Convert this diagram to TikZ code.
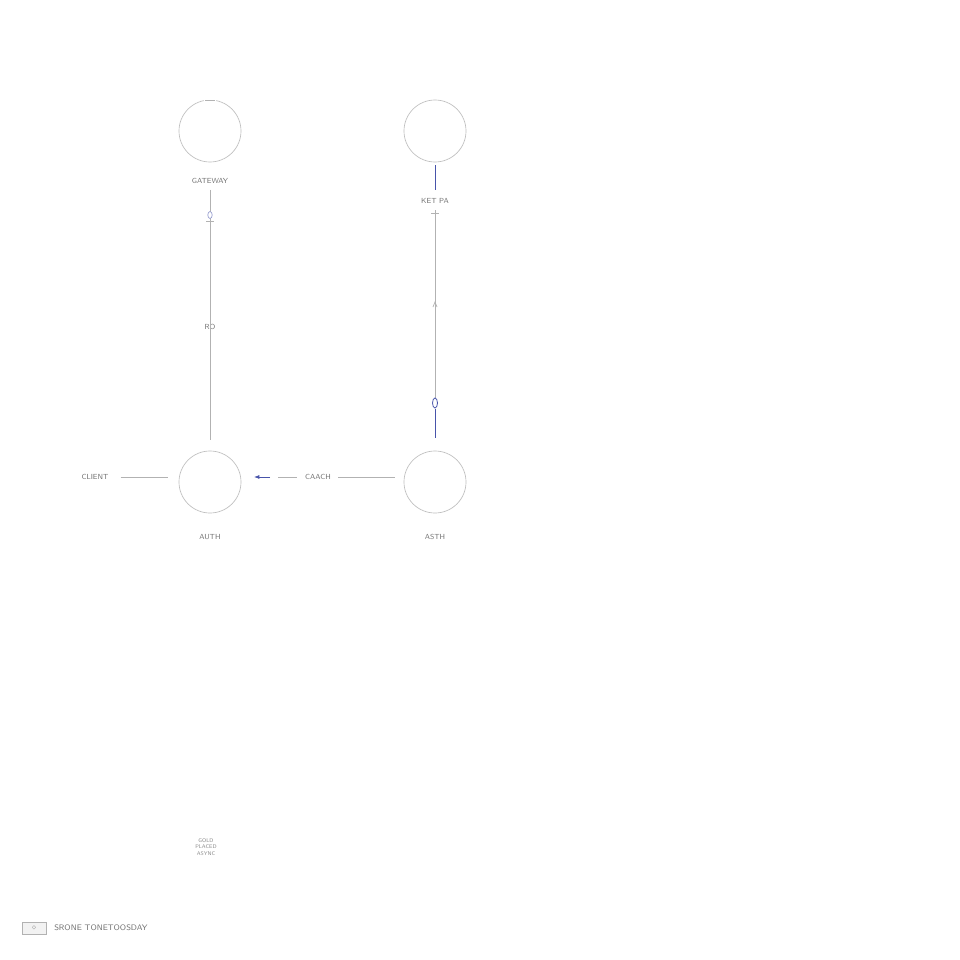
\documentclass[tikz,border=0pt]{standalone}
\usetikzlibrary{arrows.meta}
\definecolor{accentblue}{RGB}{72,84,170}
\begin{document}
\begin{tikzpicture}[x=0.75pt,y=-0.75pt,
  ring/.style={circle,draw=black!25,line width=0.5pt,minimum size=46.5pt,inner sep=0pt},
  lbl/.style={font=\fontsize{5.5}{6}\sffamily,text=black!55,inner sep=1.5pt},
  tiny/.style={font=\fontsize{4}{5}\sffamily,text=black!45,inner sep=0.5pt,align=center},
  wire/.style={draw=black!30,line width=0.5pt},
  accent/.style={draw=accentblue,line width=0.6pt}]
\useasboundingbox (0,0) rectangle (960,960);
\fill[white] (0,0) rectangle (960,960);
% circles
\node[ring] (gw) at (210,131) {};
\node[ring] (cc) at (435,131) {};
\node[ring] (au) at (210,482) {};
\node[ring] (as) at (435,482) {};
\fill[white] (204,98) rectangle (216,103);
\draw[wire] (205,100) -- (215,100);
% labels
\node[lbl] (gwl) at (210,181) {GATEWAY};
\node[lbl] (ccl) at (435,201) {KET PA};
\node[lbl] (rq) at (210,327) {RO};
\node[lbl] (cl) at (95,477) {CLIENT};
\node[lbl] (ca) at (318,477) {CAACH};
\node[lbl] (aul) at (210,537) {AUTH};
\node[lbl] (asl) at (435,537) {ASTH};
% left vertical
\draw[wire] (gwl.south) ++(0,4) coordinate (g1) -- (210,440) coordinate (g2);
\draw[draw=accentblue!60,line width=0.5pt,fill=white] (210,215) ellipse (2.2 and 3.5);
\draw[wire] (206,221) -- (214,221);
% right vertical
\draw[accent] (cc.south) ++(0,3) coordinate (c1) -- (435,190) coordinate (c2);
\draw[wire] (435,210) coordinate (c3) -- (435,398) coordinate (c4);
\draw[wire] (431,213) -- (439,213);
\draw[wire] (433,307) -- (435,302) -- (437,307);
\draw[accent,fill=white] (435,403) ellipse (2.5 and 5);
\draw[accent] (435,409) -- (435,438) coordinate (c5);
% horizontal
\draw[wire] (cl.east) ++(10,0) coordinate (h1) -- (168,477) coordinate (h2);
\draw[accent,-{Latex[length=4pt,width=3pt]}] (270,477) -- (254,477) coordinate (h3);
\draw[wire] (278,477) -- (297,477);
\draw[wire] (ca.east) ++(5,0) coordinate (h4) -- (395,477) coordinate (h5);
% bottom small text
\node[tiny] (bt) at (206,847) {GOLD\\PLACED\\ASYNC};
% legend
\node[draw=black!30,fill=black!5,minimum width=18pt,minimum height=9pt,inner sep=0pt] (lg) at (34,928) {};
\node[tiny,font=\fontsize{4.5}{5}\sffamily] at (lg) {$\diamond$};
\node[lbl,anchor=west,font=\fontsize{6}{7}\sffamily] (lgt) at (52,928) {SRONE TONETOOSDAY};
\end{tikzpicture}
\end{document}
